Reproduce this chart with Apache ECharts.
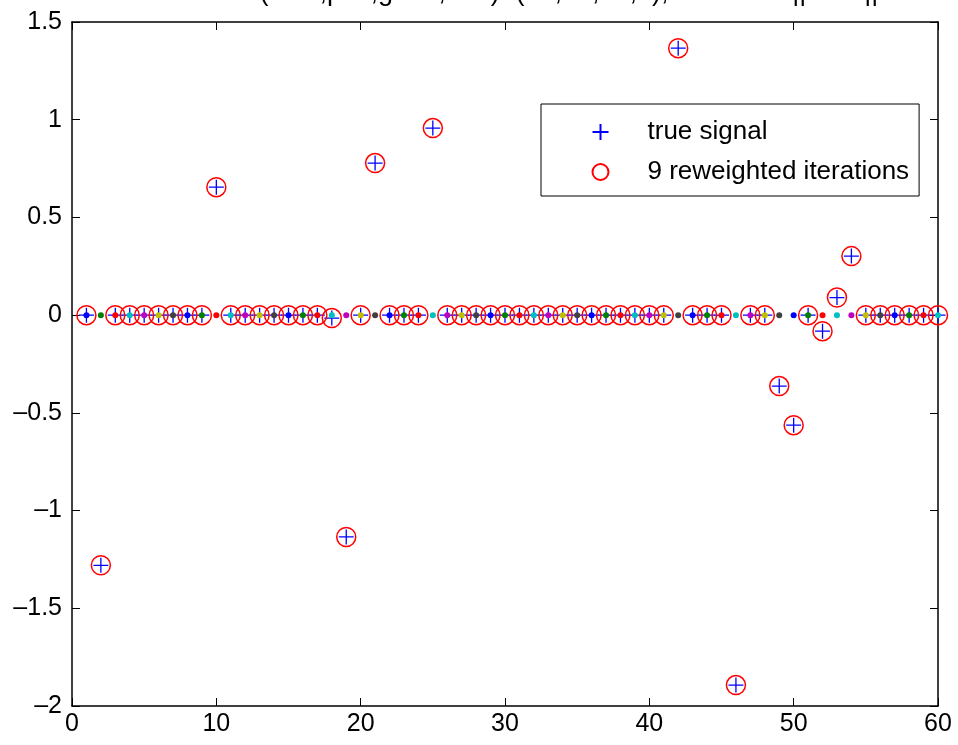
<!DOCTYPE html>
<html>
<head>
<meta charset="utf-8">
<script src="https://cdn.jsdelivr.net/npm/echarts@6/dist/echarts.min.js"></script>
<style>
html,body{margin:0;padding:0;background:#fff;}
#chart{width:958px;height:745px;}
</style>
</head>
<body>
<div id="chart"></div>
<script>
// ---- data ----
const titleText = 'errors(total,pos,good,bad)=(13,13,13,0),  rel. err = ||x\u2212x0||';
const xIndex = [
  1, 2, 3, 4, 5, 6, 7, 8, 9, 10,
  11, 12, 13, 14, 15, 16, 17, 18, 19, 20,
  21, 22, 23, 24, 25, 26, 27, 28, 29, 30,
  31, 32, 33, 34, 35, 36, 37, 38, 39, 40,
  41, 42, 43, 44, 45, 46, 47, 48, 49, 50,
  51, 52, 53, 54, 55, 56, 57, 58, 59, 60
];
const trueSignal = [
  0, -1.28, 0, 0, 0, 0, 0, 0, 0, 0.655,
  0, 0, 0, 0, 0, 0, 0, -0.015, -1.135, 0,
  0.778, 0, 0, 0, 0.957, 0, 0, 0, 0, 0,
  0, 0, 0, 0, 0, 0, 0, 0, 0, 0,
  0, 1.366, 0, 0, 0, -1.893, 0, 0, -0.363, -0.563,
  0, -0.082, 0.09, 0.302, 0, 0, 0, 0, 0, 0
];
const reweighted = [
  0, -1.28, 0, 0, 0, 0, 0, 0, 0, 0.655,
  0, 0, 0, 0, 0, 0, 0, -0.015, -1.135, 0,
  0.778, 0, 0, 0, 0.957, 0, 0, 0, 0, 0,
  0, 0, 0, 0, 0, 0, 0, 0, 0, 0,
  0, 1.366, 0, 0, 0, -1.893, 0, 0, -0.363, -0.563,
  0, -0.082, 0.09, 0.302, 0, 0, 0, 0, 0, 0
];
const dotValues = [
  0, 0, 0, 0, 0, 0, 0, 0, 0, 0,
  0, 0, 0, 0, 0, 0, 0, 0, 0, 0,
  0, 0, 0, 0, 0, 0, 0, 0, 0, 0,
  0, 0, 0, 0, 0, 0, 0, 0, 0, 0,
  0, 0, 0, 0, 0, 0, 0, 0, 0, 0,
  0, 0, 0, 0, 0, 0, 0, 0, 0, 0
];
const seriesNames = ['true signal', '9 reweighted iterations'];
const xTicks = {min: 0, max: 60, interval: 10};
const yTicks = {min: -2, max: 1.5, interval: 0.5};

// ---- styles ----
const dotColors = ['#0000ff', '#008000', '#ff0000', '#00bfbf', '#bf00bf', '#bfbf00', '#404040'];
const FONT = 'Liberation Sans, Arial, Helvetica, sans-serif';
const fmt = v => (v < 0 ? '\u2013' + String(-v) : String(v));

const pairs = (ys) => xIndex.map((x, i) => [x, ys[i]]);

const chart = echarts.init(document.getElementById('chart'), null, {renderer: 'canvas'});
const tick = {show: true, inside: true, length: 8, lineStyle: {color: '#000', width: 1}};
const line = {show: true, onZero: false, lineStyle: {color: '#000', width: 1.5}};
chart.setOption({
  animation: false,
  backgroundColor: '#fff',
  title: {
    text: titleText,
    left: 184,
    top: -26,
    textStyle: {fontFamily: FONT, fontSize: 27, fontWeight: 'normal', color: '#000'}
  },
  grid: {left: 72, right: 20, top: 22, bottom: 39, containLabel: false},
  xAxis: [
    {type: 'value', position: 'bottom', min: xTicks.min, max: xTicks.max, interval: xTicks.interval,
      axisLine: line, axisTick: tick, splitLine: {show: false},
      axisLabel: {fontFamily: FONT, fontSize: 25, color: '#000', margin: 6, formatter: fmt}},
    {type: 'value', position: 'top', min: xTicks.min, max: xTicks.max, interval: xTicks.interval,
      axisLine: line, axisTick: tick, splitLine: {show: false}, axisLabel: {show: false}}
  ],
  yAxis: [
    {type: 'value', position: 'left', min: yTicks.min, max: yTicks.max, interval: yTicks.interval,
      axisLine: line, axisTick: tick, splitLine: {show: false},
      axisLabel: {fontFamily: FONT, fontSize: 25, color: '#000', margin: 10, formatter: fmt}},
    {type: 'value', position: 'right', min: yTicks.min, max: yTicks.max, interval: yTicks.interval,
      axisLine: line, axisTick: tick, splitLine: {show: false}, axisLabel: {show: false}}
  ],
  legend: {
    orient: 'vertical',
    left: 541,
    top: 104,
    padding: [15, 10, 11, 49],
    itemGap: 14,
    itemWidth: 16,
    itemHeight: 16,
    backgroundColor: '#fff',
    borderColor: '#000',
    borderWidth: 1,
    data: seriesNames,
    textStyle: {fontFamily: FONT, fontSize: 26, color: '#000', lineHeight: 24, padding: [0, 0, 0, 34]}
  },
  series: [
    {
      name: seriesNames[0],
      type: 'scatter',
      data: pairs(trueSignal),
      symbol: 'path://M0,-1L0,1M-1,0L1,0',
      symbolSize: 15,
      itemStyle: {color: 'none', borderColor: '#0000ff', borderWidth: 1.3, opacity: 1},
      z: 2
    },
    {
      name: seriesNames[1],
      type: 'scatter',
      data: pairs(reweighted),
      symbol: 'circle',
      symbolSize: 19,
      itemStyle: {color: 'none', borderColor: '#ff0000', borderWidth: 1.5, opacity: 1},
      z: 3
    },
    {
      name: 'weights',
      type: 'scatter',
      data: pairs(dotValues),
      symbol: 'circle',
      symbolSize: 6,
      itemStyle: {color: p => dotColors[p.dataIndex % dotColors.length], opacity: 1},
      z: 4
    }
  ]
});
</script>
</body>
</html>
